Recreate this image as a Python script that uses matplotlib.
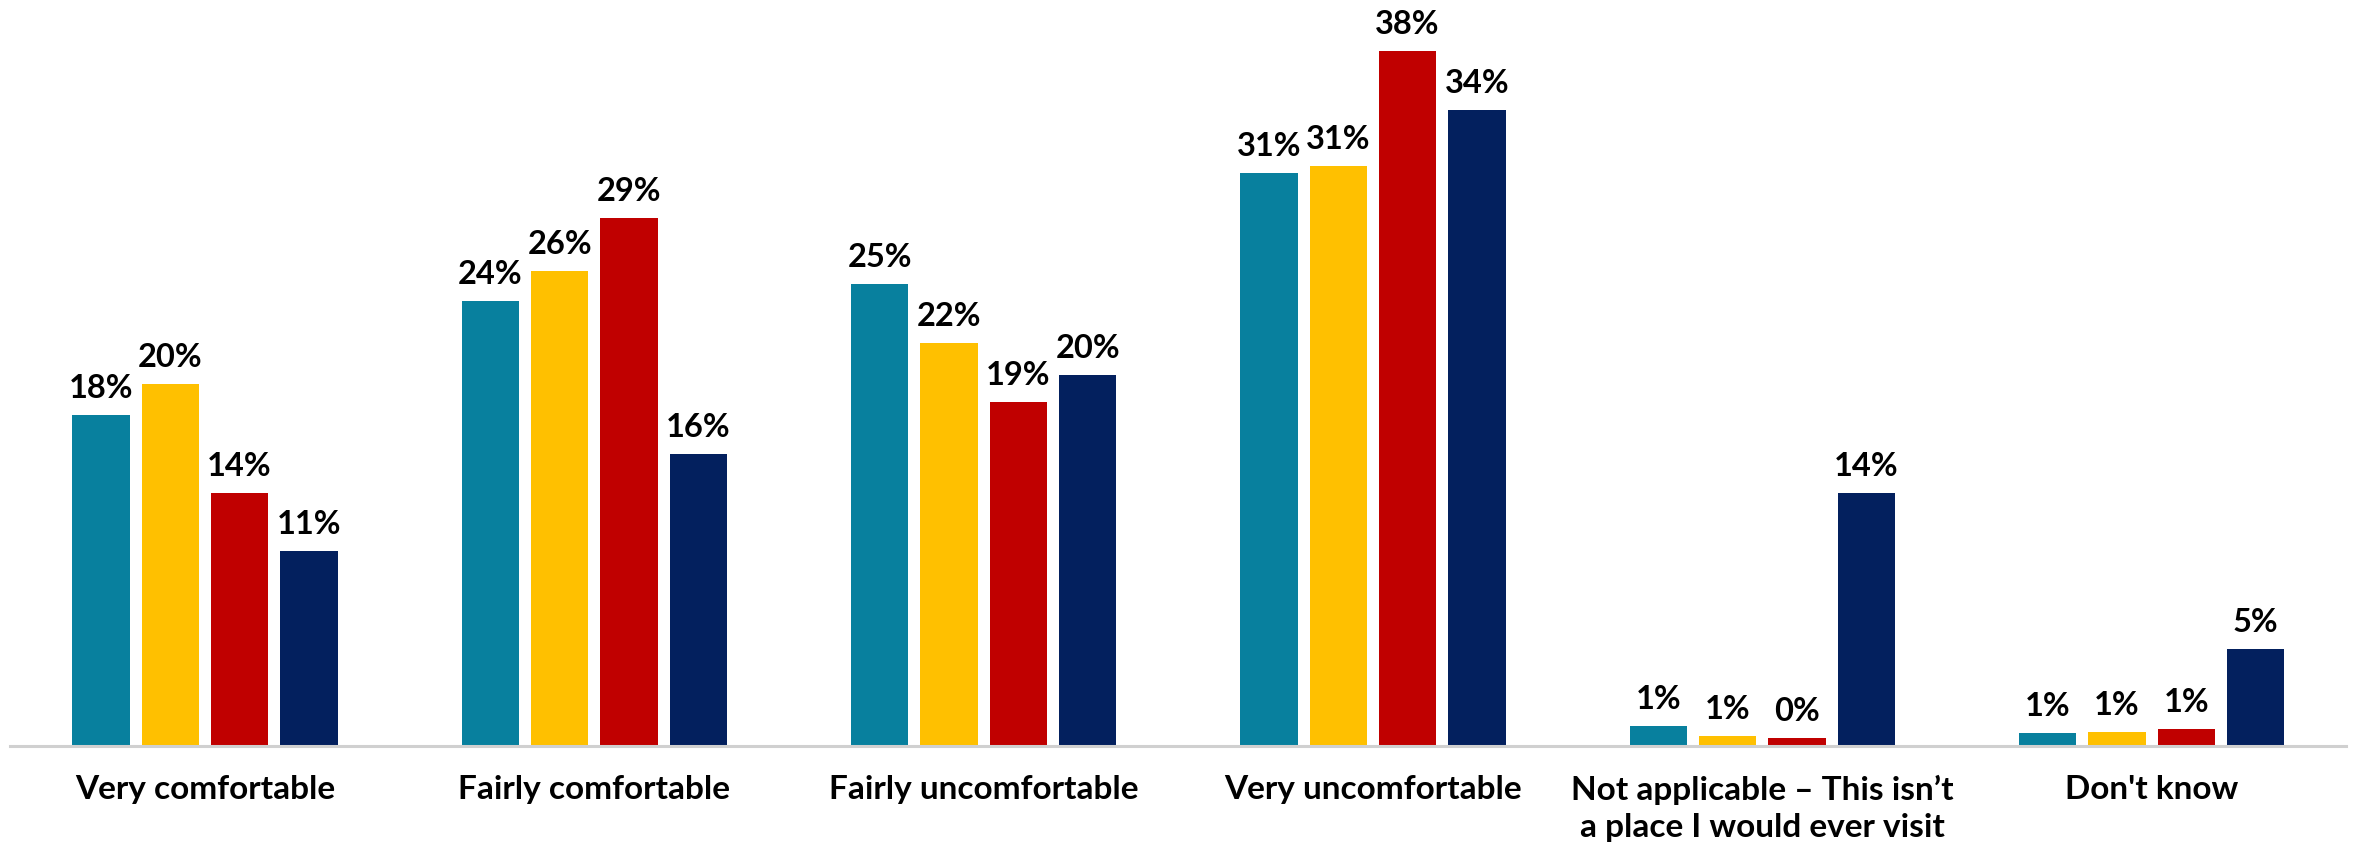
import matplotlib
matplotlib.use("Agg")
import matplotlib.pyplot as plt
import numpy as np

plt.rcParams['font.family'] = ['Lato', 'DejaVu Sans']

categories = [
    "Very comfortable",
    "Fairly comfortable",
    "Fairly uncomfortable",
    "Very uncomfortable",
    "Not applicable \u2013 This isn\u2019t\na place I would ever visit",
    "Don't know",
]

# Share of respondents (%) for each of the four groups
series_1 = [17.91, 24.10, 25.00, 30.99, 1.07, 0.70]
series_2 = [19.57, 25.72, 21.79, 31.40, 0.54, 0.76]
series_3 = [13.69, 28.56, 18.63, 37.59, 0.42, 0.92]
series_4 = [10.54, 15.80, 20.08, 34.43, 13.69, 5.23]

series = [series_1, series_2, series_3, series_4]
colors = ["#08809E", "#FFC000", "#C00000", "#03205E"]

W, H = 2356, 845
fig = plt.figure(figsize=(W / 100, H / 100), dpi=100)
ax = fig.add_axes([10.3 / W, 98 / H, 2336 / W, 1 - 98 / H])

x = np.arange(len(categories))
pitch = 0.178
width = 0.147
offsets = (np.arange(len(series)) - 1.5) * pitch

for vals, col, off in zip(series, colors, offsets):
    bars = ax.bar(x + off, vals, width=width, color=col, edgecolor="none", zorder=2)
    for b, v in zip(bars, vals):
        ax.annotate(f"{v:.0f}%", (b.get_x() + b.get_width() / 2, v),
                    xytext=(0, 13), textcoords="offset points",
                    ha="center", va="baseline", fontsize=23.5,
                    fontweight="bold", color="black")

ax.set_xlim(-0.5, 5.5)
ax.set_ylim(0, 40.42)
ax.set_xticks(x)
ax.set_xticklabels(categories, fontsize=24, fontweight="bold", color="black",
                   linespacing=1.32)
ax.tick_params(axis="x", length=0, pad=20)
ax.set_yticks([])
for side in ("top", "right", "left"):
    ax.spines[side].set_visible(False)
ax.spines["bottom"].set_color("#D0D0D0")
ax.spines["bottom"].set_linewidth(2.2)
ax.spines["bottom"].set_zorder(3)
ax.set_facecolor("none")

fig.savefig("out.png", dpi=100)
